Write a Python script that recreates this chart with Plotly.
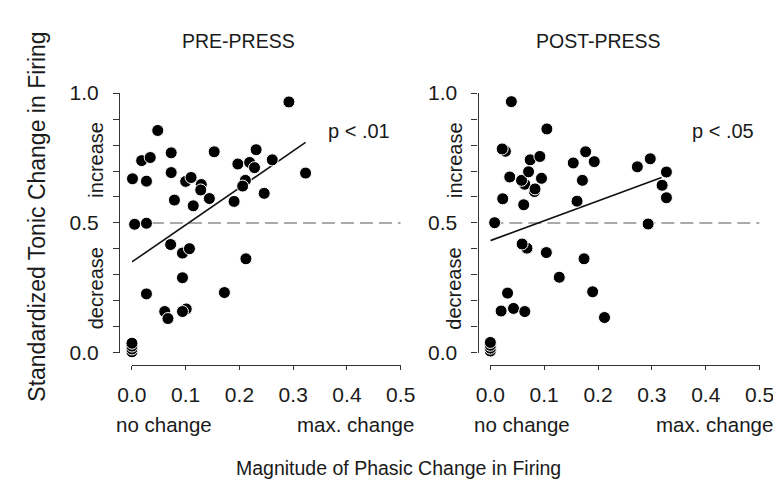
import plotly.graph_objects as go

# ---------------- data ----------------
pre_x = [0.292, 0.048, 0.073, 0.018, 0.034, 0.153, 0.231, 0.197, 0.219, 0.228,
         0.261, 0.323, 0.001, 0.027, 0.073, 0.100, 0.110, 0.129, 0.128, 0.211,
         0.206, 0.246, 0.144, 0.079, 0.114, 0.190, 0.005, 0.027, 0.072, 0.094,
         0.107, 0.212, 0.094, 0.027, 0.172, 0.061, 0.067, 0.101, 0.094, 0.000,
         0.000, 0.000, 0.000]
pre_y = [0.966, 0.856, 0.770, 0.740, 0.752, 0.774, 0.782, 0.727, 0.733, 0.713,
         0.743, 0.692, 0.670, 0.661, 0.694, 0.660, 0.675, 0.648, 0.627, 0.664,
         0.642, 0.614, 0.594, 0.588, 0.566, 0.583, 0.495, 0.499, 0.417, 0.384,
         0.401, 0.362, 0.289, 0.227, 0.232, 0.159, 0.132, 0.169, 0.159, 0.004,
         0.015, 0.026, 0.037]

post_x = [0.039, 0.105, 0.028, 0.022, 0.074, 0.092, 0.177, 0.193, 0.154, 0.273,
          0.297, 0.327, 0.319, 0.327, 0.036, 0.064, 0.058, 0.071, 0.095, 0.082,
          0.083, 0.171, 0.023, 0.062, 0.161, 0.008, 0.293, 0.068, 0.059, 0.104,
          0.174, 0.128, 0.032, 0.190, 0.020, 0.043, 0.064, 0.212, 0.000, 0.000,
          0.000, 0.000]
post_y = [0.967, 0.862, 0.776, 0.785, 0.743, 0.756, 0.774, 0.736, 0.731, 0.716,
          0.747, 0.696, 0.645, 0.597, 0.677, 0.649, 0.664, 0.697, 0.672, 0.621,
          0.631, 0.664, 0.593, 0.570, 0.584, 0.501, 0.496, 0.403, 0.419, 0.386,
          0.362, 0.291, 0.230, 0.235, 0.161, 0.171, 0.159, 0.136, 0.007, 0.018,
          0.029, 0.040]

pre_fit_x = [0.0, 0.323]
pre_fit_y = [0.350, 0.810]
post_fit_x = [0.0, 0.318]
post_fit_y = [0.432, 0.675]

ref_x = [0.0, 0.5]
ref_y = [0.5, 0.5]

x_ticks = [0.0, 0.1, 0.2, 0.3, 0.4, 0.5]
x_tick_labels = ["0.0", "0.1", "0.2", "0.3", "0.4", "0.5"]
y_ticks = [0.0, 0.1, 0.2, 0.3, 0.4, 0.5, 0.6, 0.7, 0.8, 0.9, 1.0]
y_tick_labels = ["0.0", "", "", "", "", "0.5", "", "", "", "", "1.0"]

panel_titles = ["PRE-PRESS", "POST-PRESS"]
p_labels = ["p < .01", "p < .05"]

# ---------------- layout helpers ----------------
W, H = 781, 488
SANS = "Liberation Sans, Arial, Helvetica, sans-serif"
TXT = "#1a1a1a"
AX = "#333333"

def px(x):
    return x / W

def py(y):
    return 1 - y / H

# pixel geometry of the two panels
panels = [
    dict(yaxis_x=100.0, x0=113.3, x1=392.8),
    dict(yaxis_x=472.7, x0=486.0, x1=766.0),
]
y_top, y_bot, xaxis_y = 76.7, 349.3, 362.0

fig = go.Figure()

data = [(pre_x, pre_y, pre_fit_x, pre_fit_y), (post_x, post_y, post_fit_x, post_fit_y)]
for i, (xs, ys, fx, fy) in enumerate(data):
    xa = "x" if i == 0 else "x2"
    ya = "y" if i == 0 else "y2"
    fig.add_trace(go.Scatter(x=ref_x, y=ref_y, mode="lines", xaxis=xa, yaxis=ya,
                             line=dict(color="#8f8f8f", width=1.5, dash="13px,6px"),
                             hoverinfo="skip", showlegend=False, cliponaxis=False))
    fig.add_trace(go.Scatter(x=fx, y=fy, mode="lines", xaxis=xa, yaxis=ya,
                             line=dict(color="#111111", width=1.6),
                             hoverinfo="skip", showlegend=False, cliponaxis=False))
    fig.add_trace(go.Scatter(x=xs, y=ys, mode="markers", xaxis=xa, yaxis=ya,
                             marker=dict(color="#000000", size=12,
                                         line=dict(color="white", width=1)),
                             showlegend=False, cliponaxis=False))

axis_common = dict(showgrid=False, zeroline=False, showline=True, linecolor=AX,
                   linewidth=1.3, ticks="outside", tickcolor=AX, tickwidth=1.3,
                   anchor="free", fixedrange=True)

layout = dict(width=W, height=H, margin=dict(l=0, r=0, t=0, b=0),
              paper_bgcolor="white", plot_bgcolor="white", showlegend=False)

for i, p in enumerate(panels):
    sfx = "" if i == 0 else "2"
    layout["xaxis" + sfx] = dict(
        axis_common, domain=[px(p["x0"]), px(p["x1"])], range=[0, 0.5],
        position=py(xaxis_y), tickvals=x_ticks, ticktext=x_tick_labels,
        ticklen=4, ticklabelstandoff=7,
        tickfont=dict(family=SANS, size=21, color=TXT))
    layout["yaxis" + sfx] = dict(
        axis_common, domain=[py(y_bot), py(y_top)], range=[0, 1.0],
        position=px(p["yaxis_x"]), tickvals=y_ticks, ticktext=y_tick_labels,
        ticklen=6, ticklabelstandoff=10,
        tickfont=dict(family=SANS, size=21, color=TXT))

fig.update_layout(**layout)

ann = []
title_cx = [224, 598]
for i, p in enumerate(panels):
    off = p["yaxis_x"] - panels[0]["yaxis_x"]
    ann.append(dict(text=panel_titles[i], x=px(title_cx[i]), y=py(22),
                    font=dict(family=SANS, size=19.5, color=TXT)))
    ann.append(dict(text="increase", x=px(76 + off), y=py(146.5), textangle=-90,
                    font=dict(family=SANS, size=20, color=TXT)))
    ann.append(dict(text="decrease", x=px(76 + off), y=py(281.5), textangle=-90,
                    font=dict(family=SANS, size=20, color=TXT)))
    ann.append(dict(text=p_labels[i], x=px(349 + off * 1.017), y=py(116),
                    font=dict(family=SANS, size=20, color=TXT)))
    ann.append(dict(text="no change", x=px(p["x0"] + 33), y=py(425),
                    font=dict(family=SANS, size=20.5, color=TXT)))
    ann.append(dict(text="max. change", x=px(p["x0"] + 233), y=py(425),
                    font=dict(family=SANS, size=20.5, color=TXT)))

ann.append(dict(text="Standardized Tonic Change in Firing", x=px(15), y=py(206),
                textangle=-90, font=dict(family=SANS, size=23, color=TXT)))
ann.append(dict(text="Magnitude of Phasic Change in Firing", x=px(390), y=py(470),
                font=dict(family=SANS, size=19.5, color=TXT)))

for a in ann:
    a.update(xref="paper", yref="paper", showarrow=False,
             xanchor="center", yanchor="middle")
fig.update_layout(annotations=ann)

fig.write_html("out.html", config={"displayModeBar": False})
